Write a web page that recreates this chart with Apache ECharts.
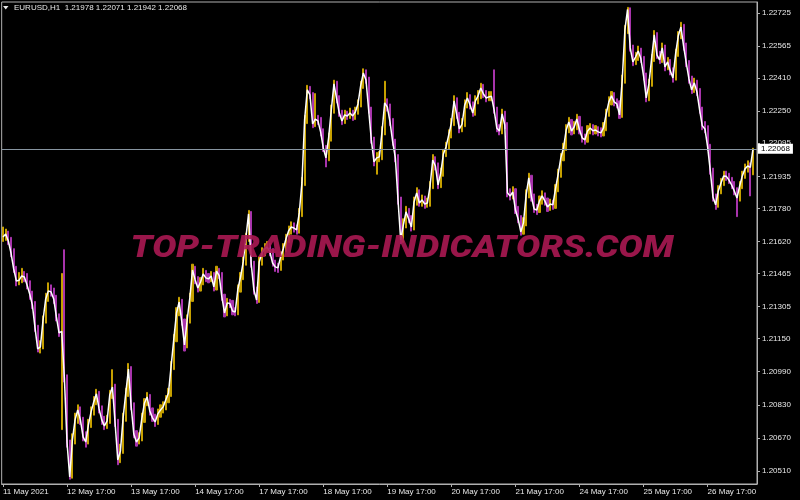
<!DOCTYPE html>
<html><head><meta charset="utf-8">
<script src="https://cdn.jsdelivr.net/npm/echarts/dist/echarts.min.js"></script>
<style>html,body{margin:0;padding:0;background:#000;}#c{width:800px;height:500px;}</style>
</head><body><div id="c"></div>
<script>
const symbolName = 'EURUSD,H1';
const lastBarOHLC = [1.21978, 1.22071, 1.21942, 1.22068];
const priceTicks = [1.20510, 1.20670, 1.20830, 1.20990, 1.21150, 1.21305, 1.21465, 1.21620, 1.21780, 1.21935, 1.22095, 1.22250, 1.22410, 1.22565, 1.22725];
const firstTimeLabel = '11 May 2021';
const watermarkText = 'TOP-TRADING-INDICATORS.COM';

const closes = [1.21642,1.21656,1.21622,1.21564,1.21487,1.21429,1.21432,1.21453,1.21448,1.21410,
1.21366,1.21313,1.21202,1.21100,1.21110,1.21240,1.21342,1.21381,1.21376,1.21342,
1.21255,1.21178,1.21185,1.20960,1.20646,1.20481,1.20660,1.20757,1.20805,1.20757,
1.20675,1.20650,1.20733,1.20796,1.20844,1.20883,1.20810,1.20757,1.20728,1.20752,
1.20878,1.20916,1.20742,1.20563,1.20607,1.20767,1.20887,1.21003,1.20825,1.20689,
1.20650,1.20670,1.20762,1.20839,1.20868,1.20800,1.20767,1.20747,1.20786,1.20805,
1.20820,1.20854,1.20887,1.21018,1.21149,1.21274,1.21327,1.21231,1.21120,1.21240,
1.21347,1.21482,1.21434,1.21395,1.21424,1.21463,1.21444,1.21439,1.21453,1.21400,
1.21477,1.21455,1.21352,1.21274,1.21323,1.21320,1.21284,1.21279,1.21390,1.21448,
1.21521,1.21637,1.21753,1.21511,1.21386,1.21337,1.21521,1.21564,1.21584,1.21593,
1.21569,1.21516,1.21497,1.21492,1.21545,1.21584,1.21632,1.21671,1.21690,1.21685,
1.21676,1.21758,1.21903,1.22208,1.22353,1.22329,1.22188,1.22212,1.22203,1.22150,
1.22072,1.22024,1.22121,1.22256,1.22382,1.22309,1.22241,1.22203,1.22232,1.22227,
1.22241,1.22227,1.22246,1.22285,1.22372,1.22435,1.22401,1.22256,1.22111,1.22005,
1.22024,1.22029,1.22150,1.22290,1.22270,1.22198,1.22101,1.22024,1.21821,1.21627,
1.21700,1.21763,1.21729,1.21690,1.21811,1.21855,1.21806,1.21821,1.21801,1.21806,
1.21888,1.22014,1.21985,1.21893,1.21951,1.22043,1.22077,1.22135,1.22193,1.22300,
1.22232,1.22164,1.22188,1.22280,1.22314,1.22280,1.22241,1.22300,1.22324,1.22362,
1.22333,1.22314,1.22319,1.22322,1.22256,1.22169,1.22154,1.22237,1.22183,1.21855,
1.21840,1.21859,1.21772,1.21729,1.21666,1.21710,1.21845,1.21927,1.21835,1.21777,
1.21772,1.21816,1.21840,1.21816,1.21787,1.21801,1.21797,1.21874,1.21946,1.22024,
1.22072,1.22159,1.22198,1.22154,1.22174,1.22212,1.22159,1.22121,1.22111,1.22154,
1.22169,1.22155,1.22159,1.22150,1.22145,1.22169,1.22237,1.22295,1.22324,1.22295,
1.22285,1.22232,1.22401,1.22643,1.22742,1.22556,1.22488,1.22512,1.22541,1.22503,
1.22420,1.22314,1.22382,1.22503,1.22619,1.22522,1.22498,1.22556,1.22464,1.22488,
1.22445,1.22411,1.22527,1.22614,1.22657,1.22565,1.22483,1.22406,1.22353,1.22387,
1.22343,1.22256,1.22179,1.22164,1.22077,1.21961,1.21835,1.21797,1.21864,1.21903,
1.21937,1.21935,1.21917,1.21893,1.21864,1.21830,1.21888,1.21937,1.21971,1.21985,
1.21978,1.22068];

const barHigh = [1.21690,1.21680,1.21670,1.21640,1.21585,1.21500,1.21470,1.21490,1.21475,1.21465,
1.21430,1.21380,1.21330,1.21215,1.21140,1.21260,1.21370,1.21420,1.21410,1.21395,
1.21360,1.21270,1.21465,1.21580,1.20975,1.20660,1.20690,1.20790,1.20830,1.20820,
1.20770,1.20700,1.20760,1.20820,1.20870,1.20905,1.20895,1.20825,1.20775,1.20780,
1.20900,1.21000,1.20930,1.20760,1.20640,1.20790,1.20910,1.21030,1.21015,1.20840,
1.20705,1.20695,1.20790,1.20860,1.20890,1.20880,1.20815,1.20785,1.20810,1.20830,
1.20845,1.20875,1.20910,1.21040,1.21170,1.21300,1.21350,1.21340,1.21245,1.21265,
1.21370,1.21510,1.21500,1.21450,1.21445,1.21490,1.21480,1.21465,1.21475,1.21470,
1.21500,1.21490,1.21470,1.21365,1.21345,1.21340,1.21335,1.21300,1.21410,1.21470,
1.21545,1.21660,1.21770,1.21765,1.21525,1.21400,1.21545,1.21590,1.21610,1.21620,
1.21610,1.21585,1.21530,1.21515,1.21570,1.21610,1.21655,1.21695,1.21715,1.21710,
1.21700,1.21780,1.21930,1.22230,1.22375,1.22370,1.22340,1.22335,1.22230,1.22220,
1.22165,1.22085,1.22145,1.22280,1.22400,1.22395,1.22325,1.22255,1.22255,1.22250,
1.22265,1.22255,1.22270,1.22305,1.22395,1.22455,1.22450,1.22415,1.22270,1.22125,
1.22050,1.22055,1.22175,1.22395,1.22310,1.22285,1.22215,1.22115,1.22040,1.21835,
1.21730,1.21790,1.21780,1.21745,1.21835,1.21880,1.21870,1.21845,1.21840,1.21830,
1.21910,1.22040,1.22030,1.22000,1.21975,1.22065,1.22100,1.22160,1.22215,1.22325,
1.22315,1.22245,1.22215,1.22305,1.22340,1.22330,1.22295,1.22325,1.22350,1.22385,
1.22380,1.22350,1.22345,1.22345,1.22450,1.22270,1.22185,1.22260,1.22250,1.22195,
1.21875,1.21885,1.21875,1.21790,1.21745,1.21735,1.21870,1.21950,1.21940,1.21850,
1.21800,1.21840,1.21865,1.21855,1.21830,1.21825,1.21820,1.21895,1.21970,1.22045,
1.22095,1.22185,1.22220,1.22210,1.22200,1.22235,1.22225,1.22175,1.22140,1.22180,
1.22190,1.22185,1.22180,1.22175,1.22170,1.22195,1.22260,1.22320,1.22345,1.22340,
1.22310,1.22300,1.22425,1.22665,1.22752,1.22750,1.22570,1.22535,1.22565,1.22555,
1.22515,1.22435,1.22405,1.22525,1.22640,1.22630,1.22540,1.22580,1.22570,1.22510,
1.22500,1.22460,1.22550,1.22635,1.22680,1.22670,1.22580,1.22495,1.22420,1.22410,
1.22400,1.22360,1.22270,1.22200,1.22180,1.22090,1.21975,1.21850,1.21890,1.21925,
1.21960,1.21960,1.21950,1.21930,1.21910,1.21880,1.21910,1.21960,1.21995,1.22010,
1.22000,1.22071];

const barLow = [1.21620,1.21625,1.21605,1.21545,1.21470,1.21405,1.21410,1.21420,1.21425,1.21390,
1.21340,1.21295,1.21185,1.21085,1.21080,1.21100,1.21225,1.21330,1.21355,1.21320,
1.21235,1.21160,1.20710,1.20940,1.20625,1.20470,1.20475,1.20640,1.20740,1.20735,
1.20655,1.20625,1.20640,1.20720,1.20780,1.20830,1.20790,1.20735,1.20710,1.20715,
1.20740,1.20860,1.20725,1.20540,1.20550,1.20595,1.20750,1.20870,1.20805,1.20670,
1.20630,1.20640,1.20655,1.20745,1.20825,1.20780,1.20750,1.20725,1.20735,1.20770,
1.20790,1.20805,1.20840,1.20870,1.21000,1.21135,1.21260,1.21215,1.21090,1.21105,
1.21225,1.21330,1.21415,1.21375,1.21380,1.21410,1.21425,1.21420,1.21425,1.21380,
1.21385,1.21440,1.21335,1.21255,1.21260,1.21300,1.21265,1.21260,1.21265,1.21375,
1.21435,1.21505,1.21620,1.21495,1.21365,1.21320,1.21325,1.21505,1.21550,1.21570,
1.21550,1.21500,1.21475,1.21470,1.21480,1.21530,1.21570,1.21615,1.21655,1.21665,
1.21655,1.21660,1.21740,1.21890,1.22190,1.22310,1.22170,1.22175,1.22185,1.22130,
1.22055,1.21980,1.22010,1.22105,1.22240,1.22290,1.22225,1.22185,1.22190,1.22210,
1.22215,1.22205,1.22210,1.22235,1.22270,1.22360,1.22385,1.22240,1.22095,1.21985,
1.21945,1.22005,1.22015,1.22135,1.22250,1.22180,1.22085,1.22005,1.21800,1.21610,
1.21615,1.21685,1.21710,1.21670,1.21675,1.21795,1.21790,1.21790,1.21780,1.21785,
1.21790,1.21875,1.21965,1.21875,1.21880,1.21935,1.22030,1.22065,1.22120,1.22180,
1.22215,1.22145,1.22150,1.22175,1.22265,1.22260,1.22225,1.22230,1.22285,1.22310,
1.22315,1.22295,1.22300,1.22300,1.22240,1.22150,1.22135,1.22140,1.22165,1.21835,
1.21820,1.21825,1.21755,1.21710,1.21650,1.21655,1.21695,1.21830,1.21815,1.21760,
1.21750,1.21760,1.21800,1.21795,1.21765,1.21770,1.21775,1.21780,1.21860,1.21930,
1.22010,1.22060,1.22145,1.22135,1.22140,1.22160,1.22140,1.22100,1.22090,1.22100,
1.22140,1.22135,1.22140,1.22130,1.22125,1.22130,1.22155,1.22225,1.22280,1.22275,
1.22265,1.22215,1.22220,1.22385,1.22625,1.22540,1.22470,1.22475,1.22495,1.22485,
1.22400,1.22295,1.22300,1.22370,1.22490,1.22505,1.22480,1.22485,1.22445,1.22450,
1.22425,1.22390,1.22400,1.22515,1.22600,1.22545,1.22465,1.22385,1.22335,1.22340,
1.22325,1.22240,1.22160,1.22145,1.22060,1.21945,1.21815,1.21775,1.21785,1.21850,
1.21890,1.21915,1.21900,1.21875,1.21845,1.21740,1.21815,1.21875,1.21925,1.21955,
1.21840,1.21942];

// hourly trading-session categories (weekends skipped), starting 11 May 2021 17:00
const monthNames = ['Jan','Feb','Mar','Apr','May','Jun','Jul','Aug','Sep','Oct','Nov','Dec'];
const categories = [];
(function(){
  let t = Date.UTC(2021, 4, 11, 17);
  while (categories.length < 283) {
    const d = new Date(t);
    const wd = d.getUTCDay();
    if (wd !== 0 && wd !== 6) {
      const hh = String(d.getUTCHours()).padStart(2, '0');
      categories.push(d.getUTCDate() + ' ' + monthNames[d.getUTCMonth()] + ' ' + hh + ':00');
    }
    t += 3600000;
  }
})();

const GOLD = '#c6a000';
const VIOLET = '#a834ac';
const FRAME = '#b0b0b0';
const TXT = '#e8e8e8';

const candleData = closes.map((c, i) => {
  const up = i === 0 ? true : c >= closes[i - 1];
  return up ? [barLow[i], barHigh[i], barLow[i], barHigh[i]]
            : [barHigh[i], barLow[i], barLow[i], barHigh[i]];
});

const chart = echarts.init(document.getElementById('c'), null, {renderer: 'canvas'});
chart.setOption({
  backgroundColor: '#000',
  animation: false,
  grid: {left: 1.5, right: 43, top: 2, bottom: 16, show: true, borderColor: FRAME, borderWidth: 1, backgroundColor: 'transparent'},
  xAxis: {
    type: 'category', data: categories, boundaryGap: true,
    axisLine: {show: true, lineStyle: {color: FRAME, width: 1}},
    axisTick: {show: true, interval: 23, alignWithLabel: true, length: 3, lineStyle: {color: FRAME}},
    axisLabel: {interval: 23, align: 'left', margin: 4, color: TXT, fontSize: 8, fontFamily: 'Liberation Sans',
      formatter: (v, i) => i % 24 !== 0 ? '' : (i === 0 ? firstTimeLabel : v)},
    splitLine: {show: false}
  },
  yAxis: {
    type: 'value', position: 'right', min: 1.20447, max: 1.22778, scale: true,
    axisLine: {show: true, lineStyle: {color: FRAME, width: 1}},
    splitLine: {show: false},
    axisTick: {show: true, length: 3, customValues: priceTicks, lineStyle: {color: FRAME}},
    axisLabel: {customValues: priceTicks, formatter: v => v.toFixed(5), color: TXT, fontSize: 8,
      fontFamily: 'Liberation Sans', margin: 5}
  },
  series: [
    {
      type: 'candlestick', data: candleData, barWidth: 1.6, z: 2,
      itemStyle: {color: GOLD, color0: VIOLET, borderColor: GOLD, borderColor0: VIOLET, borderWidth: 1}
    },
    {
      type: 'line', data: closes, symbol: 'none', z: 3,
      lineStyle: {color: '#ffffff', width: 1.5},
      markLine: {
        silent: true, symbol: ['none', 'none'], precision: 5,
        lineStyle: {color: '#8795a1', width: 1, type: 'solid'},
        label: {show: true, position: 'end', distance: 1, formatter: () => lastBarOHLC[3].toFixed(5),
          backgroundColor: '#ffffff', color: '#000000', fontSize: 8, fontFamily: 'Liberation Sans', padding: [1, 3, 1, 3]},
        data: [{yAxis: lastBarOHLC[3]}]
      }
    }
  ],
  graphic: [
    {type: 'polygon', shape: {points: [[3, 6], [8.5, 6], [5.75, 9.5]]}, style: {fill: TXT}, z: 10},
    {type: 'text', left: 14, top: 4, z: 10,
      style: {text: symbolName + '  ' + lastBarOHLC.map(v => v.toFixed(5)).join(' '), fill: TXT, font: '8px "Liberation Sans"'}},
    {type: 'text', x: 402, y: 249, z: 100, scaleX: 1.165,
      style: {text: watermarkText, fill: 'rgba(170,24,82,0.9)', font: 'italic 900 31px Roboto', align: 'center', verticalAlign: 'middle'}}
  ]
});
</script>
</body></html>
